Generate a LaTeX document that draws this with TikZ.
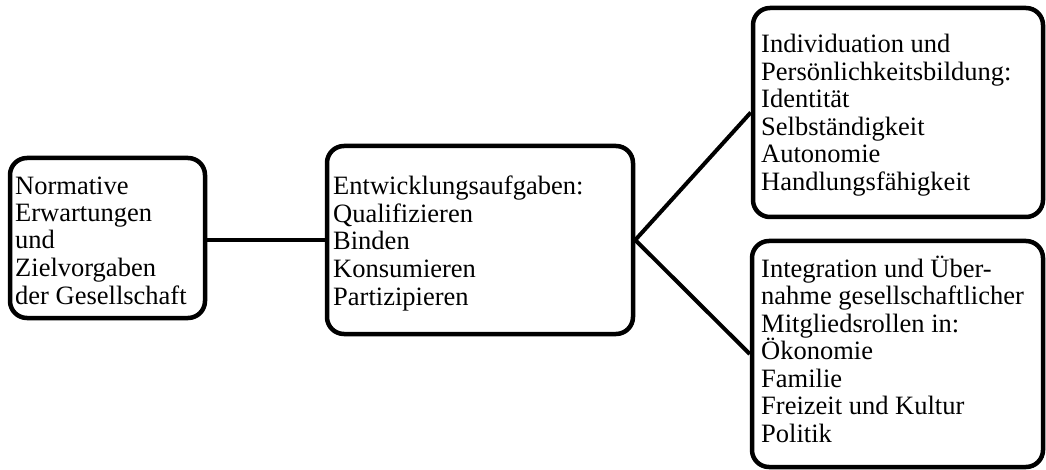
\documentclass[tikz,border=0pt]{standalone}
\usepackage{fontspec}
\setmainfont{Liberation Serif}
\begin{document}
\begin{tikzpicture}[x=1pt,y=-1pt,
  box/.style={draw=black, line width=4.5pt, rounded corners=17pt, fill=white,
    inner sep=0pt, rectangle},
  label/.style={inner sep=0pt, anchor=base west, align=left,
    font=\fontsize{26.5}{27.5}\selectfont},
  link/.style={draw=black, line width=4pt}]
\useasboundingbox (0,0) rectangle (1046,470);
% boxes
\node[box, minimum width=195pt, minimum height=160pt] (norm) at (107.5,238) {};
\node[box, minimum width=306pt, minimum height=188pt] (entw) at (480,240) {};
\node[box, minimum width=290pt, minimum height=209pt] (indiv) at (898,112.5) {};
\node[box, minimum width=291pt, minimum height=226pt] (integ) at (897.5,354) {};
% connectors
\draw[link] (entw.west -| norm.east) -- (entw.west);
\draw[link] (entw.east) -- (indiv.west);
\draw[link] (entw.east) -- (integ.west);
% texts (anchored at the baseline of the last line)
\node[label] (tnorm) at (15,304) {Normative\\Erwartungen\\und\\Zielvorgaben\\der Gesellschaft};
\node[label] (tentw) at (333,305) {Entwicklungsaufgaben:\\Qualifizieren\\Binden\\Konsumieren\\Partizipieren};
\node[label] (tindiv) at (761,190.5) {Individuation und\\Persönlichkeitsbildung:\\Identität\\Selbständigkeit\\Autonomie\\Handlungsfähigkeit};
\node[label] (tinteg) at (761,442) {Integration und Über-\\nahme gesellschaftlicher\\Mitgliedsrollen in:\\Ökonomie\\Familie\\Freizeit und Kultur\\Politik};
\end{tikzpicture}
\end{document}
